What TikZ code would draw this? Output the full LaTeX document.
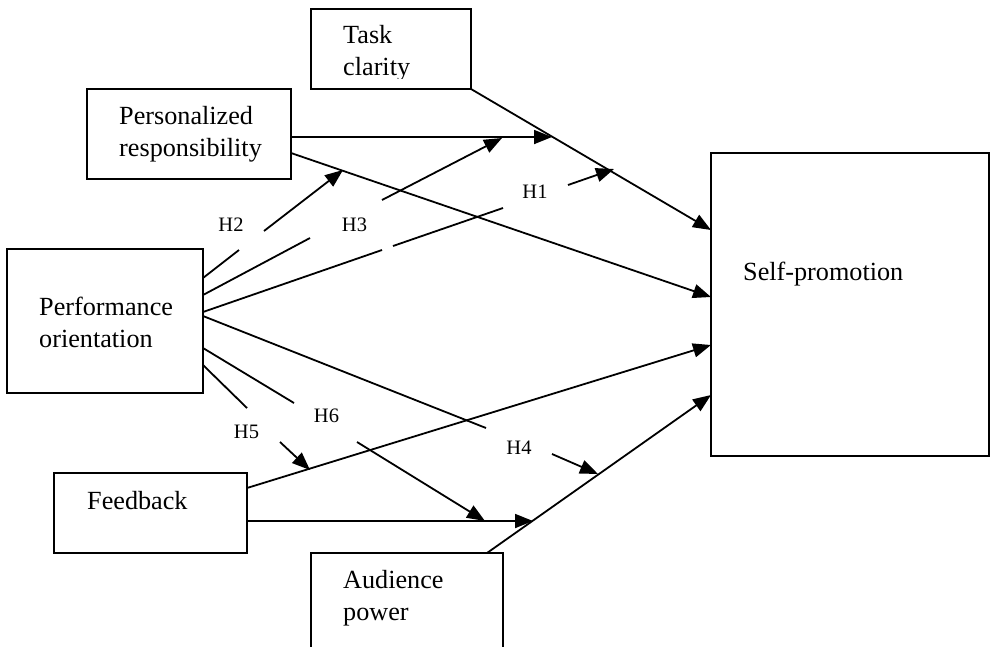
\documentclass[tikz,border=0pt]{standalone}
\usepackage{fontspec}
\setmainfont{Liberation Serif}
\usetikzlibrary{arrows.meta}
\begin{document}
\begin{tikzpicture}[x=1pt,y=-1pt,
  box/.style={draw,line width=2pt,inner sep=0pt,rectangle},
  lbl/.style={inner sep=0pt,anchor=base west,align=left,font=\fontsize{26.2}{31.5}\selectfont},
  hyp/.style={inner sep=0pt,font=\fontsize{20.5}{24}\selectfont},
  con/.style={line width=1.8pt},
  arr/.style={con,-{Triangle[length=18pt,width=14pt]}}]
\clip (0,0) rectangle (990,646);
\fill[white] (0,0) rectangle (990,646);
% boxes
\node[box,minimum width=160,minimum height=80] (tc) at (391,49) {};
\node[box,minimum width=204,minimum height=90] (pr) at (189,134) {};
\node[box,minimum width=196,minimum height=144] (po) at (105,321) {};
\node[box,minimum width=193,minimum height=80] (fb) at (150.5,513) {};
\node[box,minimum width=192,minimum height=120] (ap) at (407,613) {};
\node[box,minimum width=278,minimum height=303] (sp) at (850,304.5) {};
% texts (base anchor = last line's baseline)
\begin{scope}
  \clip (311,9) rectangle (471,78);
  \node[lbl] (tct) at (343,75) {Task\\clarity};
\end{scope}
\node[lbl] (prt) at (119,156) {Personalized\\responsibility};
\node[lbl] (pot) at (39,347) {Performance\\orientation};
\node[lbl] (fbt) at (87,509) {Feedback};
\node[lbl] (apt) at (343,620) {Audience\\power};
\node[lbl] (spt) at (743,280) {Self-promotion};
% hypothesis labels
\node[hyp] (h1) at (535,191.5) {H1};
\node[hyp] (h2) at (231,224.5) {H2};
\node[hyp] (h3) at (354.5,225) {H3};
\node[hyp] (h4) at (519,448) {H4};
\node[hyp] (h5) at (246.5,432) {H5};
\node[hyp] (h6) at (326.5,416) {H6};
% connector end points
\coordinate (tcA) at (471,89);
\coordinate (spA) at (711,230);
\coordinate (prA) at (291,137);
\coordinate (mA) at (552,137);
\coordinate (prB) at (291,153);
\coordinate (spB) at (711,297);
\coordinate (fbA) at (247,488);
\coordinate (spC) at (711,345);
\coordinate (fbB) at (247,521);
\coordinate (mB) at (533,521);
\coordinate (apA) at (487,553);
\coordinate (spD) at (711,395);
% main paths
\draw[arr] (tcA) -- (spA);
\draw[arr] (prA) -- (mA);
\draw[arr] (prB) -- (spB);
\draw[arr] (fbA) -- (spC);
\draw[arr] (fbB) -- (mB);
\draw[arr] (apA) -- (spD);
% moderating paths
\coordinate (po2) at (203,278);
\coordinate (h2a) at (239,250);
\coordinate (h2b) at (264,231);
\coordinate (h2t) at (343,170);
\draw[con] (po2) -- (h2a);
\draw[arr] (h2b) -- (h2t);
\coordinate (po3) at (203,295);
\coordinate (h3a) at (310,238);
\coordinate (h3b) at (382,200);
\coordinate (h3t) at (502,138);
\draw[con] (po3) -- (h3a);
\draw[arr] (h3b) -- (h3t);
\coordinate (po1) at (203,312);
\coordinate (h1a) at (382,250);
\coordinate (h1b) at (393,246);
\coordinate (h1c) at (503,208);
\coordinate (h1d) at (568,185);
\coordinate (h1t) at (614,169);
\draw[con] (po1) -- (h1a);
\draw[con] (h1b) -- (h1c);
\draw[arr] (h1d) -- (h1t);
\coordinate (po4) at (203,316);
\coordinate (h4a) at (486,428);
\coordinate (h4b) at (552,454);
\coordinate (h4t) at (598,474);
\draw[con] (po4) -- (h4a);
\draw[arr] (h4b) -- (h4t);
\coordinate (po6) at (203,348);
\coordinate (h6a) at (294,403);
\coordinate (h6b) at (357,442);
\coordinate (h6t) at (485,521);
\draw[con] (po6) -- (h6a);
\draw[arr] (h6b) -- (h6t);
\coordinate (po5) at (203,365);
\coordinate (h5a) at (247,408);
\coordinate (h5b) at (280,442);
\coordinate (h5t) at (310,470);
\draw[con] (po5) -- (h5a);
\draw[arr] (h5b) -- (h5t);
\end{tikzpicture}
\end{document}
